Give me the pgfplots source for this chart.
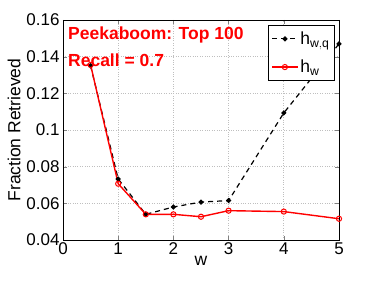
\documentclass[border=0pt]{standalone}
\usepackage{fontspec}
\setmainfont{Liberation Sans}
\usepackage{pgfplots}
\pgfplotsset{compat=1.18}
\begin{document}
\begin{tikzpicture}
\path[use as bounding box] (-63pt,-41pt) rectangle ++(374pt,281pt);
\begin{axis}[
  at={(0,0)}, anchor=south west,
  scale only axis, width=276pt, height=220pt,
  xmin=0, xmax=5, ymin=0.04, ymax=0.16,
  xtick={0,1,2,3,4,5}, ytick={0.04,0.06,0.08,0.1,0.12,0.14,0.16},
  xticklabels={0,1,2,3,4,5},
  yticklabels={0.04,0.06,0.08,0.1,0.12,0.14,0.16},
  scaled y ticks=false,
  every tick label/.append style={font=\fontsize{17}{19}\selectfont},
  xticklabel style={yshift=1pt},
  xlabel style={font=\fontsize{17.5}{19}\selectfont, yshift=5pt},
  ylabel style={font=\fontsize{17.5}{19}\selectfont, yshift=-1pt},
  xlabel={w}, ylabel={Fraction Retrieved},
  tick align=inside, major tick length=4pt,
  grid=major, grid style={gray!50, dotted, line width=0.6pt},
  axis line style={line width=0.6pt},
  legend style={at={(rel axis cs:0.985,0.975)}, anchor=north east,
    font=\fontsize{17.5}{19}\selectfont, draw=black, line width=0.6pt,
    inner xsep=3pt, inner ysep=4pt, row sep=10pt},
  legend cell align=left,
  legend image code/.code={
    \draw[mark repeat=2,mark phase=2,#1] plot coordinates {(0cm,0cm) (0.45cm,0cm) (0.9cm,0cm)};
  },
]
\addplot[black, line width=1.2pt, dash pattern=on 5pt off 4pt, mark=*, mark size=1.9pt, mark options={solid}]
  coordinates {(0.5,0.135) (1,0.0733) (1.5,0.054) (2,0.058) (2.5,0.0607) (3,0.0615) (4,0.1093) (5,0.147)};
\addlegendentry{h$_{\mathrm{w,q}}$}
\addplot[red, line width=1.4pt, mark=o, mark size=2.6pt, mark options={solid, line width=1pt}]
  coordinates {(0.5,0.1355) (1,0.0707) (1.5,0.054) (2,0.054) (2.5,0.0527) (3,0.056) (4,0.0555) (5,0.0516)};
\addlegendentry{h$_{\mathrm{w}}$}
\node[anchor=west, text=red, font=\bfseries\fontsize{17.5}{19}\selectfont, inner sep=0pt] at (rel axis cs:0.018,0.932) {Peekaboom: Top 100};
\node[anchor=west, text=red, font=\bfseries\fontsize{17.5}{19}\selectfont, inner sep=0pt] at (rel axis cs:0.018,0.818) {Recall = 0.7};
\end{axis}
\end{tikzpicture}
\end{document}
